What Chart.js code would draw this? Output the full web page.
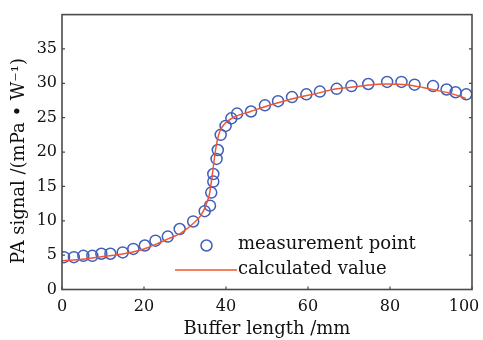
<!DOCTYPE html>
<html>
<head>
<meta charset="utf-8">
<script src="https://cdn.jsdelivr.net/npm/chart.js@4/dist/chart.umd.min.js"></script>
<style>
  html, body { margin: 0; padding: 0; background: #fff; }
  #wrap { width: 483px; height: 340px; }
</style>
</head>
<body>
<div id="wrap"><canvas id="paChart" width="483" height="340"></canvas></div>
<script>
/* ---------------------------- data ---------------------------- */

const measX = [0.5, 2.9, 5.2, 7.4, 9.6, 11.8, 14.8, 17.4, 20.2, 22.8, 25.8, 28.7, 32.0, 34.8, 36.1, 36.4, 36.9, 36.9, 37.7, 38.0, 38.7, 39.9, 41.3, 42.7, 46.1, 49.5, 52.7, 56.1, 59.6, 62.9, 67.0, 70.6, 74.7, 79.3, 82.8, 86.0, 90.5, 93.8, 96.0, 98.6]
const measY = [4.7, 4.7, 4.9, 4.9, 5.2, 5.2, 5.4, 5.9, 6.4, 7.1, 7.7, 8.8, 9.9, 11.4, 12.2, 14.1, 15.7, 16.8, 19.0, 20.3, 22.5, 23.8, 24.9, 25.6, 25.9, 26.8, 27.4, 28.0, 28.4, 28.8, 29.2, 29.6, 29.9, 30.2, 30.2, 29.8, 29.6, 29.1, 28.7, 28.4]

const calcX = [0, 5, 10, 15, 20, 23, 26, 29, 32, 34, 35.3, 36, 36.5, 37, 37.5, 38.2, 39, 40, 42, 46, 50, 54, 58, 62, 66, 70, 74, 79, 84, 88, 92, 95, 98.5]
const calcY = [4.2, 4.4, 4.8, 5.2, 5.9, 6.6, 7.4, 8.2, 9.6, 10.9, 12.6, 14.0, 16.0, 18.3, 20.5, 22.5, 23.6, 24.3, 25.1, 25.9, 26.7, 27.4, 28.0, 28.5, 29.1, 29.4, 29.7, 29.9, 29.8, 29.4, 28.9, 28.5, 27.8]

const xTicks = [0, 20, 40, 60, 80, 100]
const yTicks = [0, 5, 10, 15, 20, 25, 30, 35]
const yTitle = 'PA signal /(mPa \u2022 W\u207B\u00B9)'

const blue = '#3f5fb8'
const red = '#f2552f'
const axisColor = '#4a4a4a'
const serif = "'DejaVu Serif', serif"

/* ---------------------------- frame, inward ticks, legend ---------------------------- */

const framePlugin = {
    id: 'frame',
    afterDraw(chart) {
        const ctx = chart.ctx
        const a = chart.chartArea
        const xs = chart.scales.x
        const ys = chart.scales.y
        ctx.save()
        ctx.strokeStyle = axisColor
        ctx.lineWidth = 1.6
        ctx.strokeRect(a.left, a.top, a.right - a.left, a.bottom - a.top)
        ctx.lineWidth = 1.2
        ctx.beginPath()
        xTicks.forEach(v => {
            const px = xs.getPixelForValue(v)
            ctx.moveTo(px, a.bottom)
            ctx.lineTo(px, a.bottom - 3)
        })
        yTicks.forEach(v => {
            const py = ys.getPixelForValue(v)
            ctx.moveTo(a.left, py)
            ctx.lineTo(a.left + 3, py)
            ctx.moveTo(a.right, py)
            ctx.lineTo(a.right - 3, py)
        })
        ctx.stroke()

        // y title, sits a bit below the middle of the axis
        ctx.font = "18px " + serif
        ctx.fillStyle = '#111'
        ctx.save()
        ctx.translate(19, 161)
        ctx.rotate(-Math.PI / 2)
        ctx.textAlign = 'center'
        ctx.textBaseline = 'middle'
        ctx.fillText(yTitle, 0, 0)
        ctx.restore()

        // legend
        const meas = chart.data.datasets[1]
        const calc = chart.data.datasets[0]
        ctx.textBaseline = 'middle'
        ctx.textAlign = 'left'
        ctx.strokeStyle = meas.borderColor
        ctx.lineWidth = meas.borderWidth
        ctx.beginPath()
        ctx.arc(206.5, 245.5, meas.pointRadius, 0, Math.PI * 2)
        ctx.stroke()
        ctx.fillText(meas.label, 238, 244)
        ctx.strokeStyle = calc.borderColor
        ctx.lineWidth = calc.borderWidth
        ctx.beginPath()
        ctx.moveTo(175, 270)
        ctx.lineTo(237, 270)
        ctx.stroke()
        ctx.fillText(calc.label, 238, 269)
        ctx.restore()
    }
}

/* ---------------------------- chart ---------------------------- */

const ctx = document.getElementById('paChart')

new Chart(ctx, {
    type: 'scatter',
    data: {
        datasets: [
            {
                label: 'calculated value',
                data: calcX.map((x, i) => ({x: x, y: calcY[i]})),
                showLine: true,
                borderColor: red,
                borderWidth: 1.5,
                pointRadius: 0,
                cubicInterpolationMode: 'monotone'
            },
            {
                label: 'measurement point',
                data: measX.map((x, i) => ({x: x, y: measY[i]})),
                showLine: false,
                borderColor: blue,
                backgroundColor: 'rgba(0,0,0,0)',
                borderWidth: 1.5,
                pointRadius: 5.5,
                pointHoverRadius: 5.5
            }
        ]
    },
    options: {
        responsive: false,
        animation: false,
        devicePixelRatio: 1,
        layout: {
            padding: {top: 9, right: 11, bottom: 0, left: 0}
        },
        plugins: {
            legend: {display: false},
            tooltip: {enabled: false}
        },
        scales: {
            x: {
                type: 'linear',
                min: 0,
                max: 100,
                afterBuildTicks: s => { s.ticks = xTicks.map(v => ({value: v})) },
                afterFit: s => { s.height = 50.5; s.paddingLeft = 0; s.paddingRight = 0 },
                grid: {display: false, drawTicks: false},
                border: {display: false},
                ticks: {
                    color: '#111',
                    padding: 8,
                    maxRotation: 0,
                    font: {family: serif, size: 16},
                    // last label is pushed left so it stays inside the picture
                    callback: v => v === 100 ? '100\u2002\u2002' : v
                },
                title: {
                    display: true,
                    text: 'Buffer length /mm',
                    color: '#111',
                    padding: {top: 0, bottom: 0},
                    font: {family: serif, size: 18}
                }
            },
            y: {
                type: 'linear',
                min: 0,
                max: 40,
                afterBuildTicks: s => { s.ticks = yTicks.map(v => ({value: v})) },
                afterFit: s => { s.width = 62 },
                grid: {display: false, drawTicks: false},
                border: {display: false},
                ticks: {
                    color: '#111',
                    padding: 5,
                    font: {family: serif, size: 16}
                },
                title: {display: false}
            }
        }
    },
    plugins: [framePlugin]
})
</script>
</body>
</html>
